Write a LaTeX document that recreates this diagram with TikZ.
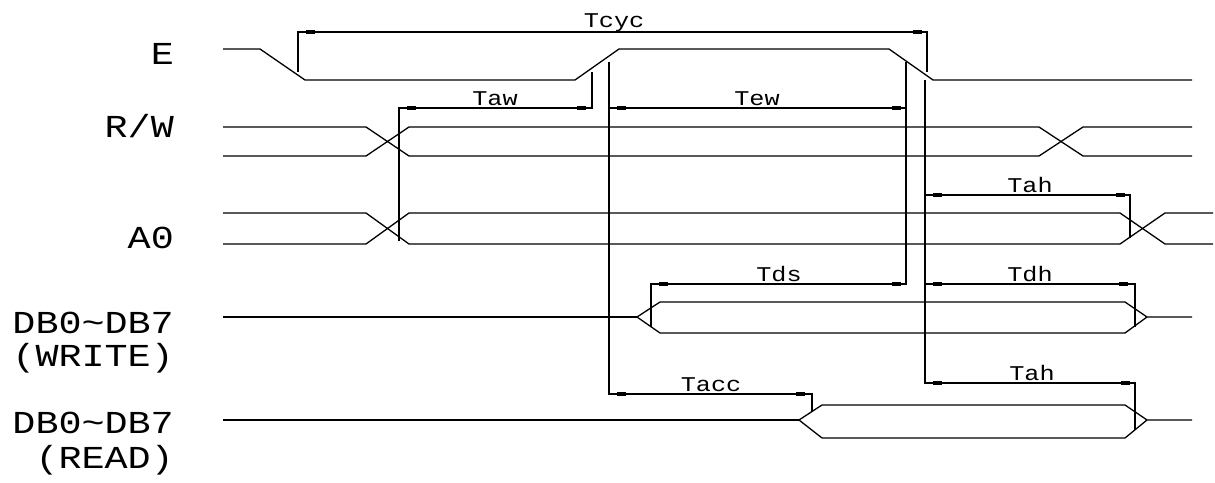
\documentclass[tikz,border=0pt]{standalone}
\usepackage{fontspec}
\newfontfamily\cadfont{Liberation Mono}[FakeStretch=1.2]
\tikzset{
  wave/.style={line width=1.3pt, line join=miter},
  dimline/.style={line width=1.5pt},
  siglabel/.style={font=\cadfont\fontsize{32}{34}\selectfont, anchor=base east, inner sep=0pt},
  tlabel/.style={font=\cadfont\fontsize{21}{23}\selectfont, anchor=base, inner sep=0pt},
}
\newcommand\dimmark[2]{\fill (#1-4.5,#2-2) rectangle (#1+4.5,#2+2);}
\begin{document}
\begin{tikzpicture}[x=1pt,y=-1pt]
\useasboundingbox (0,0) rectangle (1215,482);
\fill[white] (0,0) rectangle (1215,482);

% signal labels
\node[siglabel] (lE) at (174,64) {E};
\node[siglabel] (lRW) at (174,137) {R/W};
\node[siglabel] (lA0) at (174,248) {A0};
\node[siglabel] (lDBw) at (174,333) {DB0\textasciitilde DB7};
\node[siglabel] (lW) at (174,366) {(WRITE)};
\node[siglabel] (lDBr) at (174,433) {DB0\textasciitilde DB7};
\node[siglabel] (lR) at (174,468) {(READ)};

% E
\draw[wave] (223,49) -- (260,49) -- (305,80) -- (575,80) -- (619,49) -- (889,49) -- (933,80) -- (1192,80);

% R/W
\draw[wave] (223,127) -- (366,127) -- (409,156) -- (1039,156) -- (1083,127) -- (1192,127);
\draw[wave] (223,156) -- (366,156) -- (409,127) -- (1039,127) -- (1083,156) -- (1192,156);

% A0
\draw[wave] (223,213) -- (366,213) -- (409,244) -- (1120,244) -- (1165,213) -- (1213,213);
\draw[wave] (223,244) -- (366,244) -- (409,213) -- (1120,213) -- (1165,244) -- (1213,244);

% DB write
\draw[wave] (223,317) -- (637,317);
\draw[wave] (660,302) -- (637,317) -- (660,333);
\draw[wave] (660,302) -- (1125,302) -- (1147,317) -- (1192,317);
\draw[wave] (660,333) -- (1125,333) -- (1147,317);

% DB read
\draw[wave] (223,420) -- (799,420);
\draw[wave] (822,405) -- (799,420) -- (822,438);
\draw[wave] (822,405) -- (1125,405) -- (1147,420) -- (1192,420);
\draw[wave] (822,438) -- (1125,438) -- (1147,420);

% Tcyc
\draw[dimline] (298,72) -- (298,32) -- (927,32) -- (927,72);
\dimmark{310}{32}\dimmark{917}{32}
\node[tlabel] (tcyc) at (614,27) {Tcyc};

% Taw
\draw[dimline] (592,72) -- (592,108) -- (399,108) -- (399,241);
\dimmark{411}{108}\dimmark{581}{108}
\node[tlabel] (taw) at (495,105) {Taw};

% Tew (verticals shared with Tacc / Tds)
\draw[dimline] (609,62) -- (609,394) -- (812,394) -- (812,412);
\draw[dimline] (609,108) -- (906,108);
\draw[dimline] (906,62) -- (906,284) -- (651,284) -- (651,327);
\dimmark{621}{108}\dimmark{896}{108}
\node[tlabel] (tew) at (757,105) {Tew};

% Tds
\dimmark{663}{284}\dimmark{896}{284}
\node[tlabel] (tds) at (779,281) {Tds};

% Tacc
\dimmark{621}{394}\dimmark{800}{394}
\node[tlabel] (tacc) at (711,391) {Tacc};

% right vertical (Tah / Tdh)
\draw[dimline] (925,80) -- (925,383) -- (1135,383) -- (1135,430);
\draw[dimline] (925,195) -- (1130,195) -- (1130,238);
\draw[dimline] (925,284) -- (1135,284) -- (1135,327);
\dimmark{937}{195}\dimmark{1120}{195}
\dimmark{937}{284}\dimmark{1123}{284}
\dimmark{937}{383}\dimmark{1125}{383}
\node[tlabel] (tah1) at (1030,192) {Tah};
\node[tlabel] (tdh) at (1030,281) {Tdh};
\node[tlabel] (tah2) at (1032,380) {Tah};
\end{tikzpicture}
\end{document}
